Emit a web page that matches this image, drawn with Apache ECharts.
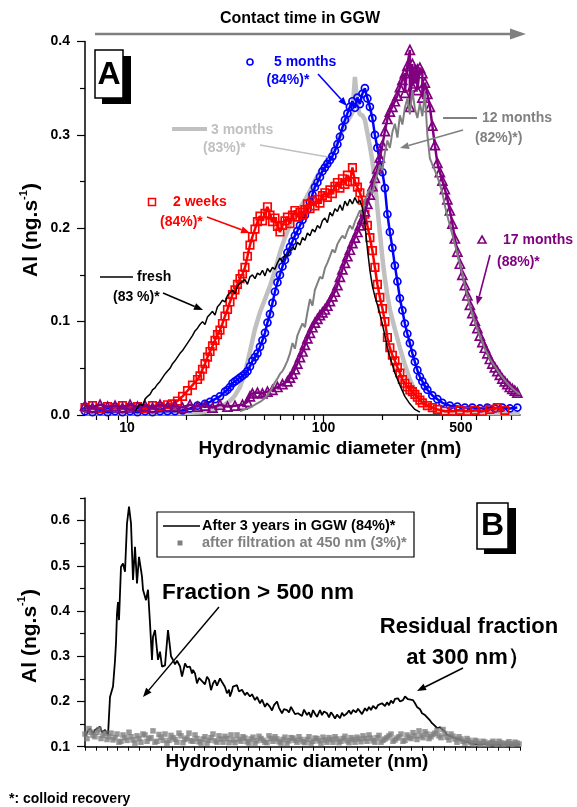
<!DOCTYPE html>
<html><head><meta charset="utf-8">
<script src="https://cdn.jsdelivr.net/npm/echarts@6/dist/echarts.min.js"></script>
<style>html,body{margin:0;padding:0;background:#fff}#c{width:577px;height:807px}</style>
</head><body><div id="c"></div>
<script>
// ---------- Panel A data: [hydrodynamic diameter (nm), Al (ng.s-1)] ----------
const fresh = [[11.0,0.004],[11.3,0.008],[11.65,0.012],[12.0,0.010],[12.35,0.017],[12.72,0.020],[13.09,0.022],[13.48,0.027],[13.88,0.029],[14.29,0.033],[14.72,0.036],[15.16,0.040],[15.61,0.044],[16.07,0.047],[16.55,0.050],[17.04,0.055],[17.54,0.058],[18.06,0.062],[18.61,0.066],[19.16,0.069],[19.72,0.073],[20.31,0.077],[20.91,0.081],[21.53,0.085],[22.18,0.090],[22.84,0.093],[23.51,0.097],[24.21,0.100],[24.93,0.097],[25.67,0.105],[26.44,0.108],[27.23,0.111],[28.03,0.107],[28.86,0.116],[29.72,0.119],[30.60,0.123],[31.51,0.121],[32.45,0.128],[33.41,0.131],[34.40,0.134],[35.42,0.130],[36.47,0.138],[37.57,0.141],[38.69,0.143],[39.83,0.145],[41.01,0.140],[42.23,0.148],[43.48,0.150],[44.78,0.146],[46.11,0.152],[47.48,0.150],[48.89,0.155],[50.34,0.149],[51.84,0.157],[53.39,0.153],[54.98,0.158],[56.60,0.156],[58.28,0.163],[60.0,0.168],[61.8,0.164],[63.6,0.172],[65.5,0.170],[67.5,0.176],[69.5,0.180],[71.5,0.177],[73.6,0.185],[75.9,0.182],[78.2,0.190],[80.4,0.187],[82.8,0.195],[85.3,0.192],[87.8,0.199],[90.4,0.196],[93.1,0.203],[95.9,0.200],[98.7,0.208],[101.6,0.211],[104.6,0.206],[107.8,0.217],[111.0,0.213],[114.3,0.221],[117.7,0.218],[121.2,0.225],[124.8,0.219],[128.5,0.229],[132.3,0.224],[136.2,0.231],[140.3,0.226],[144.5,0.233],[148.8,0.227],[153.1,0.230],[157.7,0.222],[162.4,0.205],[167.2,0.178],[172.2,0.155],[177.3,0.138],[182.6,0.127],[188.0,0.118],[193.6,0.108],[199.4,0.097],[205.3,0.085],[211.4,0.072],[217.6,0.062],[224.1,0.054],[230.8,0.045],[244.7,0.032],[259.4,0.020],[275.1,0.012],[291.7,0.006],[309.3,0.003]];

const weeks2 = [[6.11,0.008],[6.67,0.010],[7.29,0.007],[7.96,0.009],[8.69,0.008],[9.48,0.010],[10.36,0.008],[11.3,0.009],[12.35,0.007],[13.48,0.010],[14.72,0.009],[16.07,0.011],[17.04,0.012],[18.06,0.015],[19.16,0.020],[20.31,0.026],[21.53,0.032],[22.84,0.038],[23.51,0.042],[24.21,0.049],[24.93,0.055],[25.67,0.062],[26.44,0.068],[27.23,0.074],[28.03,0.080],[28.86,0.086],[29.72,0.091],[30.60,0.098],[31.51,0.106],[32.45,0.113],[33.41,0.121],[34.40,0.129],[35.42,0.134],[36.47,0.140],[37.57,0.146],[38.69,0.151],[39.83,0.158],[41.01,0.170],[42.23,0.182],[43.48,0.191],[44.78,0.199],[46.11,0.207],[47.48,0.213],[48.89,0.208],[50.34,0.216],[51.84,0.223],[53.39,0.214],[54.98,0.207],[56.60,0.211],[58.28,0.202],[60.0,0.196],[61.8,0.203],[63.6,0.208],[65.5,0.212],[67.5,0.205],[69.5,0.214],[71.5,0.219],[73.6,0.212],[75.9,0.217],[78.2,0.214],[80.4,0.220],[82.8,0.226],[85.3,0.221],[87.8,0.229],[90.4,0.224],[93.1,0.231],[95.9,0.227],[98.7,0.235],[101.6,0.238],[104.6,0.233],[107.8,0.241],[111.0,0.237],[114.3,0.245],[117.7,0.249],[121.2,0.243],[124.8,0.253],[128.5,0.247],[132.3,0.257],[136.2,0.250],[140.3,0.265],[144.5,0.250],[148.8,0.244],[153.1,0.238],[157.7,0.230],[162.4,0.215],[167.2,0.203],[172.2,0.190],[177.3,0.176],[182.6,0.158],[188.0,0.140],[193.6,0.126],[199.4,0.114],[205.3,0.100],[211.4,0.083],[217.6,0.072],[224.1,0.064],[230.8,0.058],[237.7,0.051],[244.7,0.045],[252.0,0.038],[259.4,0.034],[267.1,0.030],[275.1,0.027],[283.3,0.025],[291.7,0.022],[300.4,0.019],[309.3,0.016],[318.5,0.013],[337.7,0.010],[358.0,0.008],[379.7,0.006],[414.6,0.004],[452.7,0.004],[494.2,0.005],[539.6,0.004],[589.1,0.005],[643.2,0.004],[702.3,0.006],[766.7,0.008],[837.1,0.005]];

const months3 = [[6.11,0.002],[7.29,0.002],[9.21,0.002],[11.65,0.002],[14.72,0.002],[18.61,0.002],[23.51,0.003],[26.44,0.004],[29.72,0.008],[33.41,0.015],[35.42,0.021],[37.57,0.030],[39.83,0.045],[42.23,0.068],[44.78,0.092],[47.48,0.110],[50.34,0.124],[53.39,0.138],[56.60,0.155],[60.0,0.174],[63.6,0.190],[67.5,0.204],[71.5,0.214],[75.9,0.222],[80.4,0.230],[85.3,0.240],[90.4,0.251],[95.9,0.261],[101.6,0.269],[107.8,0.277],[114.3,0.287],[121.2,0.299],[128.5,0.311],[136.2,0.319],[140.3,0.324],[144.5,0.362],[148.8,0.330],[153.1,0.322],[157.7,0.321],[162.4,0.316],[167.2,0.302],[172.2,0.288],[177.3,0.272],[182.6,0.250],[188.0,0.222],[193.6,0.195],[199.4,0.168],[205.3,0.146],[211.4,0.128],[217.6,0.113],[230.8,0.092],[244.7,0.072],[259.4,0.054],[275.1,0.038],[291.7,0.026],[309.3,0.017],[347.7,0.008],[391.0,0.004],[494.2,0.003],[702.3,0.002],[997.7,0.002]];

const months5 = [[6.11,0.004],[6.67,0.003],[7.29,0.004],[7.96,0.003],[8.69,0.004],[9.48,0.003],[10.36,0.004],[11.3,0.003],[12.35,0.004],[13.48,0.003],[14.72,0.004],[16.07,0.004],[17.54,0.004],[19.16,0.005],[20.91,0.007],[22.84,0.010],[24.93,0.012],[26.44,0.014],[28.03,0.017],[29.72,0.020],[31.51,0.025],[32.45,0.027],[33.41,0.030],[34.40,0.034],[35.42,0.036],[36.47,0.038],[37.57,0.040],[38.69,0.042],[39.83,0.044],[41.01,0.047],[42.23,0.052],[43.48,0.058],[44.78,0.062],[46.11,0.066],[47.48,0.073],[48.89,0.080],[50.34,0.088],[51.84,0.099],[53.39,0.108],[54.98,0.120],[56.60,0.132],[58.28,0.142],[60.0,0.150],[61.8,0.159],[63.6,0.166],[65.5,0.174],[67.5,0.180],[69.5,0.186],[71.5,0.192],[73.6,0.197],[75.9,0.203],[78.2,0.209],[80.4,0.214],[82.8,0.220],[85.3,0.228],[87.8,0.236],[90.4,0.244],[93.1,0.249],[95.9,0.255],[98.7,0.261],[101.6,0.265],[104.6,0.269],[107.8,0.273],[111.0,0.277],[114.3,0.283],[117.7,0.290],[121.2,0.298],[124.8,0.308],[128.5,0.316],[132.3,0.323],[136.2,0.330],[140.3,0.336],[144.5,0.329],[148.8,0.340],[153.1,0.333],[157.7,0.344],[162.4,0.350],[167.2,0.339],[172.2,0.330],[177.3,0.318],[182.6,0.300],[188.0,0.286],[193.6,0.272],[199.4,0.260],[205.3,0.243],[211.4,0.215],[217.6,0.196],[224.1,0.179],[230.8,0.160],[237.7,0.143],[244.7,0.125],[252.0,0.112],[259.4,0.098],[267.1,0.087],[275.1,0.077],[283.3,0.066],[291.7,0.057],[300.4,0.048],[309.3,0.041],[318.5,0.036],[328.0,0.031],[337.7,0.027],[358.0,0.021],[379.7,0.017],[402.6,0.013],[439.6,0.010],[480.0,0.009],[524.0,0.008],[572.1,0.008],[624.6,0.007],[682.0,0.008],[744.6,0.007],[812.9,0.008],[887.6,0.007],[969.0,0.008]];

const months12 = [[37.57,0.004],[39.83,0.006],[42.23,0.008],[44.78,0.011],[47.48,0.014],[50.34,0.018],[53.39,0.025],[54.98,0.030],[56.60,0.035],[58.28,0.039],[60.0,0.044],[61.8,0.047],[63.6,0.052],[65.5,0.058],[67.5,0.066],[69.5,0.077],[71.5,0.071],[73.6,0.085],[75.9,0.092],[78.2,0.098],[80.4,0.094],[82.8,0.110],[85.3,0.124],[87.8,0.117],[90.4,0.134],[93.1,0.141],[95.9,0.148],[98.7,0.146],[101.6,0.157],[104.6,0.163],[107.8,0.170],[111.0,0.177],[114.3,0.174],[117.7,0.183],[121.2,0.188],[124.8,0.192],[128.5,0.189],[132.3,0.197],[136.2,0.203],[140.3,0.199],[144.5,0.207],[148.8,0.213],[153.1,0.219],[157.7,0.215],[162.4,0.229],[167.2,0.237],[172.2,0.242],[177.3,0.237],[182.6,0.251],[188.0,0.258],[193.6,0.268],[199.4,0.262],[205.3,0.281],[211.4,0.294],[217.6,0.286],[224.1,0.303],[230.8,0.312],[237.7,0.297],[244.7,0.321],[252.0,0.311],[259.4,0.329],[267.1,0.339],[275.1,0.322],[283.3,0.348],[291.7,0.328],[300.4,0.318],[309.3,0.334],[318.5,0.320],[328.0,0.345],[337.7,0.300],[347.7,0.275],[358.0,0.268],[368.7,0.262],[379.7,0.255],[391.0,0.247],[402.6,0.238],[414.6,0.224],[426.9,0.213],[439.6,0.203],[452.7,0.193],[466.1,0.183],[480.0,0.173],[494.2,0.162],[508.9,0.151],[524.0,0.139],[539.6,0.128],[555.6,0.117],[572.1,0.108],[589.1,0.100],[606.6,0.092],[624.6,0.085],[643.2,0.078],[662.3,0.071],[682.0,0.066],[702.3,0.060],[744.6,0.052],[789.5,0.044],[837.1,0.037],[887.6,0.031],[941.0,0.026],[997.7,0.022]];

const months17 = [[6.11,0.010],[6.67,0.008],[7.29,0.011],[7.96,0.009],[8.69,0.010],[9.48,0.008],[10.36,0.011],[11.3,0.009],[12.35,0.010],[13.48,0.008],[14.72,0.011],[16.07,0.009],[17.54,0.010],[19.16,0.008],[20.91,0.011],[22.84,0.009],[24.93,0.010],[27.23,0.008],[29.72,0.011],[32.45,0.009],[35.42,0.010],[38.69,0.011],[41.01,0.014],[42.23,0.020],[43.48,0.023],[46.11,0.024],[48.89,0.023],[51.84,0.025],[54.98,0.027],[58.28,0.030],[61.8,0.033],[65.5,0.036],[67.5,0.040],[69.5,0.044],[71.5,0.049],[73.6,0.055],[75.9,0.062],[78.2,0.068],[80.4,0.075],[82.8,0.082],[85.3,0.088],[87.8,0.094],[90.4,0.099],[93.1,0.103],[95.9,0.107],[98.7,0.110],[101.6,0.113],[104.6,0.117],[107.8,0.122],[111.0,0.127],[114.3,0.132],[117.7,0.139],[121.2,0.148],[124.8,0.156],[128.5,0.163],[132.3,0.170],[136.2,0.177],[140.3,0.184],[144.5,0.190],[148.8,0.196],[153.1,0.203],[157.7,0.210],[162.4,0.218],[167.2,0.226],[172.2,0.236],[177.3,0.245],[182.6,0.254],[188.0,0.264],[193.6,0.276],[199.4,0.289],[205.3,0.304],[211.4,0.317],[217.6,0.325],[224.1,0.330],[230.8,0.336],[237.7,0.342],[244.7,0.351],[252.0,0.359],[259.4,0.366],[259.4,0.345],[267.1,0.374],[275.1,0.391],[275.1,0.330],[283.3,0.376],[283.3,0.352],[291.7,0.369],[291.7,0.355],[300.4,0.370],[300.4,0.348],[309.3,0.372],[318.5,0.366],[318.5,0.340],[328.0,0.356],[337.7,0.344],[347.7,0.330],[358.0,0.310],[368.7,0.289],[379.7,0.270],[391.0,0.260],[402.6,0.251],[414.6,0.242],[426.9,0.231],[439.6,0.219],[452.7,0.205],[466.1,0.189],[480.0,0.175],[494.2,0.162],[508.9,0.150],[524.0,0.139],[539.6,0.128],[555.6,0.118],[572.1,0.109],[589.1,0.101],[606.6,0.093],[624.6,0.085],[643.2,0.078],[662.3,0.072],[682.0,0.066],[702.3,0.060],[723.1,0.055],[744.6,0.051],[766.7,0.047],[789.5,0.043],[812.9,0.039],[837.1,0.036],[861.9,0.033],[887.6,0.030],[913.9,0.028],[941.0,0.026],[969.0,0.024]];

// ---------- Panel B data: [size channel, Al (ng.s-1)] ----------
const after3years = [[0,0.122],[3,0.135],[5,0.140],[8,0.128],[10,0.137],[12,0.141],[15,0.144],[17,0.132],[20,0.137],[22,0.130],[23,0.125],[25,0.210],[28,0.233],[30,0.290],[31,0.330],[32,0.395],[33,0.420],[34,0.380],[36,0.498],[38,0.505],[40,0.487],[42,0.594],[44,0.631],[46,0.594],[48,0.469],[50,0.542],[52,0.461],[54,0.520],[57,0.476],[58,0.447],[61,0.424],[63,0.447],[65,0.373],[67,0.292],[68,0.343],[70,0.358],[73,0.292],[75,0.310],[77,0.277],[80,0.280],[83,0.358],[85,0.320],[86,0.300],[88,0.292],[90,0.282],[92,0.290],[95,0.278],[97,0.255],[100,0.284],[102,0.276],[105,0.277],[107,0.262],[108,0.270],[110,0.262],[112,0.240],[114,0.252],[115,0.255],[117,0.245],[118,0.247],[120,0.238],[122,0.255],[124,0.248],[126,0.225],[128,0.240],[130,0.247],[132,0.235],[135,0.251],[137,0.243],[138,0.247],[140,0.232],[142,0.218],[144,0.226],[145,0.211],[147,0.224],[148,0.233],[150,0.230],[152,0.236],[154,0.222],[155,0.218],[157,0.226],[160,0.214],[162,0.220],[165,0.211],[167,0.216],[170,0.203],[172,0.210],[175,0.196],[177,0.204],[180,0.188],[182,0.196],[185,0.188],[187,0.180],[189,0.192],[192,0.200],[194,0.186],[197,0.174],[199,0.183],[202,0.181],[204,0.176],[206,0.188],[208,0.185],[210,0.172],[213,0.174],[215,0.177],[217,0.168],[219,0.182],[222,0.170],[224,0.176],[226,0.165],[228,0.181],[230,0.173],[232,0.166],[235,0.181],[237,0.170],[239,0.178],[242,0.174],[244,0.165],[246,0.176],[248,0.170],[250,0.162],[252,0.171],[255,0.163],[257,0.175],[259,0.168],[262,0.174],[264,0.180],[266,0.172],[268,0.181],[271,0.176],[273,0.184],[275,0.181],[277,0.172],[280,0.185],[282,0.179],[284,0.188],[286,0.181],[288,0.190],[291,0.184],[293,0.192],[295,0.188],[297,0.196],[300,0.190],[302,0.198],[304,0.192],[306,0.202],[308,0.196],[310,0.206],[313,0.207],[315,0.200],[318,0.203],[320,0.211],[323,0.205],[325,0.209],[328,0.203],[330,0.196],[332,0.188],[335,0.183],[337,0.174],[340,0.170],[342,0.166],[345,0.158],[347,0.152],[350,0.146],[352,0.141],[355,0.143],[357,0.141],[360,0.133],[362,0.126],[365,0.124],[367,0.122],[370,0.119],[372,0.118],[375,0.116],[377,0.114],[380,0.111],[383,0.110],[386,0.107],[390,0.106],[395,0.105],[400,0.106],[405,0.104],[410,0.105],[415,0.104],[420,0.105],[425,0.104],[430,0.104],[435,0.105]];

const filtered450 = [[0,0.128],[2,0.118],[4,0.140],[6,0.132],[8,0.125],[10,0.122],[12,0.132],[14,0.138],[16,0.118],[18,0.125],[20,0.130],[22,0.116],[24,0.122],[26,0.130],[28,0.115],[30,0.120],[32,0.128],[34,0.110],[36,0.112],[38,0.126],[40,0.120],[42,0.114],[44,0.132],[46,0.122],[48,0.115],[50,0.108],[52,0.124],[54,0.118],[56,0.110],[58,0.128],[60,0.126],[62,0.112],[64,0.118],[66,0.120],[68,0.135],[70,0.110],[72,0.112],[74,0.127],[76,0.121],[78,0.114],[80,0.128],[82,0.108],[84,0.114],[86,0.125],[88,0.120],[90,0.116],[92,0.110],[94,0.130],[96,0.124],[98,0.109],[100,0.116],[102,0.119],[104,0.130],[106,0.113],[108,0.112],[110,0.126],[112,0.118],[114,0.111],[116,0.108],[118,0.117],[120,0.122],[122,0.108],[124,0.114],[126,0.120],[128,0.128],[130,0.113],[132,0.110],[134,0.124],[136,0.117],[138,0.110],[140,0.123],[142,0.118],[144,0.109],[146,0.126],[148,0.115],[150,0.109],[152,0.126],[154,0.116],[156,0.112],[158,0.122],[160,0.119],[162,0.111],[164,0.108],[166,0.117],[168,0.121],[170,0.108],[172,0.113],[174,0.123],[176,0.118],[178,0.114],[180,0.110],[182,0.109],[184,0.124],[186,0.118],[188,0.112],[190,0.122],[192,0.117],[194,0.111],[196,0.108],[198,0.116],[200,0.121],[202,0.108],[204,0.113],[206,0.120],[208,0.119],[210,0.114],[212,0.110],[214,0.122],[216,0.116],[218,0.111],[220,0.109],[222,0.116],[224,0.122],[226,0.108],[228,0.112],[230,0.119],[232,0.118],[234,0.113],[236,0.108],[238,0.121],[240,0.115],[242,0.110],[244,0.120],[246,0.116],[248,0.110],[250,0.122],[252,0.117],[254,0.109],[256,0.112],[258,0.118],[260,0.123],[262,0.113],[264,0.109],[266,0.120],[268,0.116],[270,0.110],[272,0.121],[274,0.117],[276,0.111],[278,0.124],[280,0.118],[282,0.112],[284,0.126],[286,0.119],[288,0.113],[290,0.110],[292,0.120],[294,0.125],[296,0.110],[298,0.114],[300,0.117],[302,0.120],[304,0.124],[306,0.128],[308,0.112],[310,0.115],[312,0.119],[314,0.122],[316,0.128],[318,0.112],[320,0.114],[322,0.126],[324,0.121],[326,0.118],[328,0.131],[330,0.124],[332,0.116],[334,0.135],[336,0.124],[338,0.120],[340,0.133],[342,0.128],[344,0.118],[346,0.122],[348,0.127],[350,0.130],[352,0.136],[354,0.124],[356,0.120],[358,0.138],[360,0.129],[362,0.121],[364,0.115],[366,0.128],[368,0.123],[370,0.117],[372,0.110],[374,0.122],[376,0.117],[378,0.112],[380,0.108],[382,0.118],[384,0.114],[386,0.109],[388,0.106],[390,0.114],[392,0.112],[394,0.107],[396,0.105],[398,0.112],[400,0.110],[402,0.105],[404,0.106],[406,0.109],[408,0.112],[410,0.107],[412,0.105],[414,0.112],[416,0.109],[418,0.105],[420,0.106],[422,0.108],[424,0.111],[426,0.106],[428,0.105],[430,0.110],[432,0.108],[434,0.106]];

// ---------- Axis ticks / labels ----------
const xRangeA = [6.11, 1000];
const xLabelsA = [10, 100, 500];
const xMajorTicksA = [10, 100];
const xMinorTicksA = [7, 8, 9, 20, 30, 40, 50, 60, 70, 80, 90, 200, 300, 400, 500, 600, 700, 800, 900];
const yMajorA = [0, 0.1, 0.2, 0.3, 0.4];
const yMinorA = [0.05, 0.15, 0.25, 0.35];
const yMajorB = [0.1, 0.2, 0.3, 0.4, 0.5, 0.6];
const yMinorB = [0.15, 0.25, 0.35, 0.45, 0.55, 0.65];

const FONT = "'Liberation Sans', Arial, sans-serif";
const lg = v => Math.log10(v);
const toLog = arr => arr.map(p => [lg(p[0]), p[1]]);

const axisLineBlack = {show: true, lineStyle: {color: '#000', width: 1.5}};
const lbl = {fontFamily: FONT, fontWeight: 'bold', fontSize: 14, color: '#000'};

function arrow(x1, y1, x2, y2, color, w) {
  const a = Math.atan2(y2 - y1, x2 - x1), L = 9, H = 3.5;
  const bx = x2 - L * Math.cos(a), by = y2 - L * Math.sin(a);
  const px = -Math.sin(a) * H, py = Math.cos(a) * H;
  return [
    {type: 'line', z: 100, shape: {x1, y1, x2: bx, y2: by}, style: {stroke: color, lineWidth: w}},
    {type: 'polygon', z: 100, shape: {points: [[x2, y2], [bx + px, by + py], [bx - px, by - py]]}, style: {fill: color}}
  ];
}
function txt(x, y, text, color, size, align) {
  return {type: 'text', z: 100, x, y, style: {text, fill: color, font: 'bold ' + size + 'px ' + FONT, align: align || 'left', verticalAlign: 'middle'}};
}
function ytitle(x, y) {
  return {type: 'text', z: 100, x, y, rotation: Math.PI / 2,
    style: {text: '{a|Al (ng.s}{s|-1}{a|)}', align: 'center', verticalAlign: 'middle',
      rich: {a: {fontFamily: FONT, fontWeight: 'bold', fontSize: 21, fill: '#000', lineHeight: 24, verticalAlign: 'bottom'},
             s: {fontFamily: FONT, fontWeight: 'bold', fontSize: 11, fill: '#000', lineHeight: 24, verticalAlign: 'top'}}}};
}

const graphic = [].concat(
  [txt(300, 19, 'Contact time in GGW', '#000', 16, 'center')],
  [{type: 'line', z: 100, shape: {x1: 95, y1: 34, x2: 512, y2: 34}, style: {stroke: '#808080', lineWidth: 2.5}},
   {type: 'polygon', z: 100, shape: {points: [[510, 28.5], [526, 34], [510, 39.5]]}, style: {fill: '#808080'}}],
  // A box
  [{type: 'rect', z: 100, shape: {x: 102, y: 56, width: 29, height: 48}, style: {fill: '#000'}},
   {type: 'rect', z: 101, shape: {x: 95, y: 50, width: 28, height: 48}, style: {fill: '#fff', stroke: '#000', lineWidth: 1.5}},
   {type: 'text', z: 102, x: 109, y: 75, style: {text: 'A', font: 'bold 32px ' + FONT, fill: '#000', align: 'center', verticalAlign: 'middle'}}],
  // 5 months
  [{type: 'circle', z: 100, shape: {cx: 250, cy: 62, r: 3}, style: {fill: 'none', stroke: '#0000ff', lineWidth: 1.6}},
   txt(274, 62, '5 months', '#0000ff', 14), txt(288, 80, '(84%)*', '#0000ff', 14, 'center')],
  arrow(318, 74, 347, 106, '#0000ff', 1.6),
  // 3 months
  [{type: 'line', z: 100, shape: {x1: 172, y1: 129, x2: 207, y2: 129}, style: {stroke: '#c0c0c0', lineWidth: 4}},
   txt(211, 130, '3 months', '#c0c0c0', 14), txt(203, 148, '(83%)*', '#c0c0c0', 14),
   {type: 'line', z: 100, shape: {x1: 260, y1: 145, x2: 328, y2: 157}, style: {stroke: '#c0c0c0', lineWidth: 1.6}}],
  // 12 months
  [{type: 'line', z: 100, shape: {x1: 443, y1: 118, x2: 477, y2: 118}, style: {stroke: '#808080', lineWidth: 2}},
   txt(482, 118, '12 months', '#808080', 14), txt(475, 138, '(82%)*)', '#808080', 14)],
  arrow(463, 130, 400, 148, '#808080', 1.6),
  // 2 weeks
  [{type: 'rect', z: 100, shape: {x: 148.5, y: 198.5, width: 7, height: 7}, style: {fill: 'none', stroke: '#ff0000', lineWidth: 1.5}},
   txt(173, 202, '2 weeks', '#ff0000', 14), txt(160, 222, '(84%)*', '#ff0000', 14)],
  arrow(207, 217, 250, 233, '#ff0000', 1.6),
  // fresh
  [{type: 'line', z: 100, shape: {x1: 100, y1: 277, x2: 133, y2: 277}, style: {stroke: '#000', lineWidth: 1.5}},
   txt(137, 277, 'fresh', '#000', 14), txt(113, 297, '(83 %)*', '#000', 14)],
  arrow(163, 293, 203, 310, '#000', 1.6),
  // 17 months
  [{type: 'polygon', z: 100, shape: {points: [[482, 236], [486, 243], [478, 243]]}, style: {fill: 'none', stroke: '#800080', lineWidth: 1.6}},
   txt(503, 240, '17 months', '#800080', 14), txt(497, 262, '(88%)*', '#800080', 14)],
  arrow(490, 255, 477, 305, '#800080', 1.6),
  // A axis titles
  [txt(330, 449, 'Hydrodynamic diameter (nm)', '#000', 19, 'center'), ytitle(30, 230)],
  // B box
  [{type: 'rect', z: 100, shape: {x: 484, y: 508, width: 32, height: 46}, style: {fill: '#000'}},
   {type: 'rect', z: 101, shape: {x: 477, y: 503, width: 31, height: 46}, style: {fill: '#fff', stroke: '#000', lineWidth: 1.5}},
   {type: 'text', z: 102, x: 492.5, y: 526, style: {text: 'B', font: 'bold 32px ' + FONT, fill: '#000', align: 'center', verticalAlign: 'middle'}}],
  // B legend
  [{type: 'rect', z: 100, shape: {x: 157, y: 512, width: 257, height: 45}, style: {fill: '#fff', stroke: '#000', lineWidth: 1.2}},
   {type: 'line', z: 101, shape: {x1: 163, y1: 526, x2: 200, y2: 526}, style: {stroke: '#000', lineWidth: 1.5}},
   txt(202, 526, 'After 3 years in GGW (84%)*', '#000', 14.5),
   {type: 'rect', z: 101, shape: {x: 177.5, y: 540.5, width: 5, height: 5}, style: {fill: '#808080'}},
   txt(202, 543, 'after filtration at 450 nm (3%)*', '#808080', 14.5)],
  // B annotations
  [txt(162, 593, 'Fraction > 500 nm', '#000', 22.5)],
  arrow(219, 607, 143, 697, '#000', 1.5),
  [txt(469, 627, 'Residual fraction', '#000', 22, 'center'), txt(468, 658, 'at 300 nm）', '#000', 22, 'center')],
  arrow(463, 668, 417, 691, '#000', 1.5),
  [txt(297, 762, 'Hydrodynamic diameter (nm)', '#000', 19, 'center'), ytitle(28.5, 636)],
  [txt(9, 799, '*: colloid recovery', '#000', 14)]
);

const markerSeries = (name, data, symbol, size, color, z) => ({
  name, type: 'line', xAxisIndex: 0, yAxisIndex: 0, data: toLog(data), symbol, symbolSize: size, showAllSymbol: true,
  lineStyle: {color, width: 2.5}, itemStyle: {color: 'transparent', borderColor: color, borderWidth: 1.7}, z
});

const chart = echarts.init(document.getElementById('c'), null, {renderer: 'canvas'});
chart.setOption({
  animation: false,
  backgroundColor: '#fff',
  textStyle: {fontFamily: FONT},
  grid: [
    {left: 85, top: 41.5, width: 435, height: 373.5},
    {left: 85, top: 498, width: 435, height: 248.7}
  ],
  xAxis: [
    {gridIndex: 0, type: 'value', position: 'bottom', min: lg(xRangeA[0]), max: lg(xRangeA[1]), axisLine: axisLineBlack,
     axisTick: {show: true, customValues: xMinorTicksA.map(lg), length: 5, lineStyle: {color: '#000', width: 1.2}},
     axisLabel: {show: false}, splitLine: {show: false}},
    {gridIndex: 0, type: 'value', position: 'bottom', min: lg(xRangeA[0]), max: lg(xRangeA[1]), axisLine: {show: false},
     axisTick: {show: true, customValues: xMajorTicksA.map(lg), length: 8, lineStyle: {color: '#000', width: 1.2}},
     axisLabel: Object.assign({customValues: xLabelsA.map(lg), margin: 6, formatter: v => String(Math.round(Math.pow(10, v)))}, lbl),
     splitLine: {show: false}},
    {gridIndex: 1, type: 'value', position: 'bottom', min: 0, max: 435, interval: 10.875, axisLine: axisLineBlack,
     axisTick: {show: true, length: 4, lineStyle: {color: '#000', width: 1}},
     axisLabel: {show: false}, splitLine: {show: false}}
  ],
  yAxis: [
    {gridIndex: 0, type: 'value', position: 'left', min: 0, max: 0.4, axisLine: axisLineBlack,
     axisTick: {show: true, customValues: yMajorA, length: 8, lineStyle: {color: '#000', width: 1.2}},
     axisLabel: Object.assign({customValues: yMajorA, margin: 15, formatter: v => v.toFixed(1)}, lbl), splitLine: {show: false}},
    {gridIndex: 0, type: 'value', position: 'left', min: 0, max: 0.4, axisLine: {show: false},
     axisTick: {show: true, customValues: yMinorA, length: 5, lineStyle: {color: '#000', width: 1.2}},
     axisLabel: {show: false}, splitLine: {show: false}},
    {gridIndex: 1, type: 'value', position: 'left', min: 0.1, max: 0.65, axisLine: axisLineBlack,
     axisTick: {show: true, customValues: yMajorB, length: 8, lineStyle: {color: '#000', width: 1.2}},
     axisLabel: Object.assign({customValues: yMajorB, margin: 15, formatter: v => v.toFixed(1)}, lbl), splitLine: {show: false}},
    {gridIndex: 1, type: 'value', position: 'left', min: 0.1, max: 0.65, axisLine: {show: false},
     axisTick: {show: true, customValues: yMinorB, length: 5, lineStyle: {color: '#000', width: 1.2}},
     axisLabel: {show: false}, splitLine: {show: false}}
  ],
  series: [
    {name: '3 months', type: 'line', xAxisIndex: 0, yAxisIndex: 0, data: toLog(months3), symbol: 'none',
     lineStyle: {color: '#c0c0c0', width: 4.5}, z: 2},
    markerSeries('5 months', months5, 'circle', 7, '#0000ff', 3),
    markerSeries('2 weeks', weeks2, 'rect', 7.5, '#ff0000', 4),
    markerSeries('17 months', months17, 'triangle', 9, '#800080', 5),
    {name: '12 months', type: 'line', xAxisIndex: 0, yAxisIndex: 0, data: toLog(months12), symbol: 'none',
     lineStyle: {color: '#808080', width: 2}, z: 6},
    {name: 'fresh', type: 'line', xAxisIndex: 0, yAxisIndex: 0, data: toLog(fresh), symbol: 'none',
     lineStyle: {color: '#000', width: 1.5}, z: 7},
    {name: 'After 3 years in GGW', type: 'line', xAxisIndex: 2, yAxisIndex: 2, data: after3years, symbol: 'none',
     lineStyle: {color: '#000', width: 1.8}, z: 3},
    {name: 'after filtration at 450 nm', type: 'scatter', xAxisIndex: 2, yAxisIndex: 2, data: filtered450, symbol: 'rect', symbolSize: 5.5,
     itemStyle: {color: '#808080'}, z: 4}
  ],
  graphic: graphic
});
</script>
</body></html>
